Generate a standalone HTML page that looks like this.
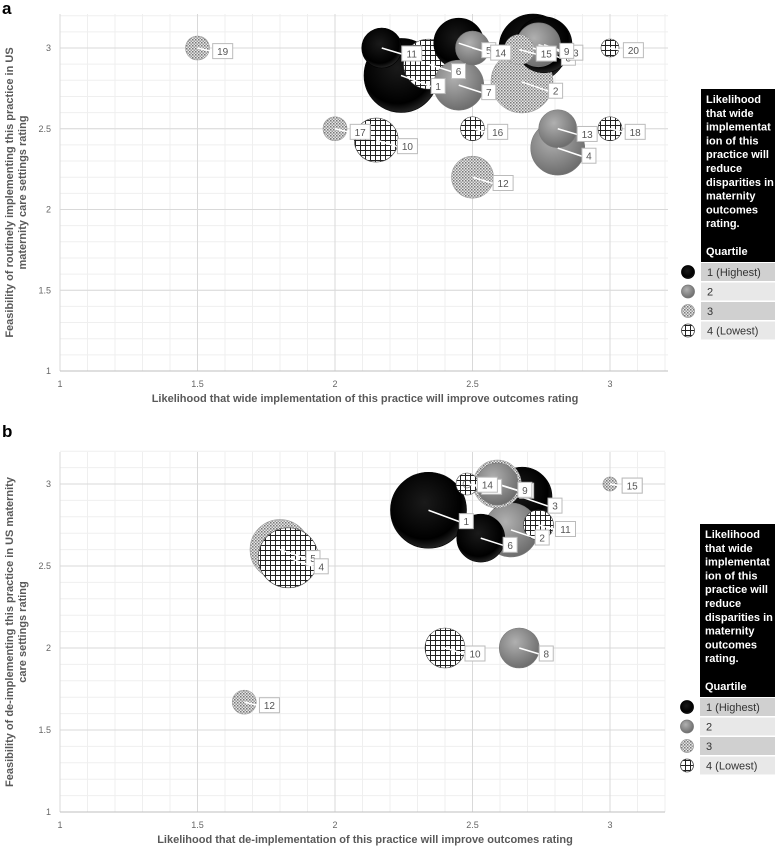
<!DOCTYPE html>
<html><head><meta charset="utf-8"><style>
body{margin:0;background:#fff;width:777px;height:849px;overflow:hidden;font-family:"Liberation Sans",sans-serif}
svg{position:absolute;left:0;top:0}
</style></head><body>
<svg id="chart" width="777" height="849" xmlns="http://www.w3.org/2000/svg">
<defs>
<radialGradient id="gBlack" cx="45%" cy="40%" r="60%"><stop offset="0" stop-color="#1a1a1a"/><stop offset="0.8" stop-color="#000"/><stop offset="1" stop-color="#222"/></radialGradient>
<radialGradient id="gGray" cx="40%" cy="35%" r="65%"><stop offset="0" stop-color="#b0b0b0"/><stop offset="1" stop-color="#6e6e6e"/></radialGradient>
<pattern id="pDots" width="3" height="3" patternUnits="userSpaceOnUse"><rect width="3" height="3" fill="#e6e6e6"/><rect width="1.5" height="1.5" fill="#777"/><rect x="1.5" y="1.5" width="1.5" height="1.5" fill="#999"/></pattern>
<pattern id="pCross" width="5" height="5" patternUnits="userSpaceOnUse"><rect width="5" height="5" fill="#fff"/><path d="M0 0.5H5M0.5 0V5" stroke="#222" stroke-width="1"/></pattern>
</defs>
<g id="layer"></g>
</svg>
<script>
// Chart a data
const aLabels=[1,11,6,5,14,7,2,8,3,9,15,20,19,17,10,16,13,4,18,12];
const aX=[2.24,2.17,2.34,2.45,2.5,2.45,2.68,2.72,2.76,2.74,2.67,3,1.5,2,2.15,2.5,2.81,2.81,3,2.5];
const aY=[2.83,3,2.9,3.03,3,2.77,2.79,3,3.02,3.02,2.99,3,3,2.5,2.43,2.5,2.5,2.38,2.5,2.2];
const aSize=[37,20,25,25,17,25,31,34,28,22,15,9,12,12,22,12,19,27,12,21];
const aQ=[1,1,4,1,2,2,3,1,1,2,3,4,3,3,4,4,2,2,4,3];
// Chart b data
const bLabels=[1,3,2,6,7,9,13,14,11,16,15,5,4,8,10,12];
const bX=[2.34,2.68,2.64,2.53,2.59,2.59,2.48,2.48,2.74,3,3,1.8,1.83,2.67,2.4,1.67];
const bY=[2.84,2.92,2.72,2.67,3,3,3,3,2.75,3,3,2.6,2.55,2,2,1.67];
const bSize=[38,30,27,24,24,21,11,4,15,7,7,30,30,20,20,12];
const bQ=[1,1,2,1,3,2,4,4,4,3,3,3,4,2,4,3];
const xTicks=[1,1.5,2,2.5,3];
const yTicks=[1,1.5,2,2.5,3];
const quartileNames=["1 (Highest)","2","3","4 (Lowest)"];

const NS="http://www.w3.org/2000/svg";
const layer=document.getElementById('layer');
function mk(t,a,p){const e=document.createElementNS(NS,t);for(const k in a)e.setAttribute(k,a[k]);(p||layer).appendChild(e);return e;}
const fills={1:"url(#gBlack)",2:"url(#gGray)",3:"url(#pDots)",4:"url(#pCross)"};
const strokes={1:"#000",2:"#777",3:"#999",4:"#444"};

function drawChart(cfg){
  const sx=v=>cfg.x0+(v-1)*cfg.xs, sy=v=>cfg.y1-(v-1)*cfg.ys;
  const g=mk('g',{});
  
  
  for(let v=1;v<=3.201;v+=0.1){mk('line',{x1:sx(v),x2:sx(v),y1:cfg.yTop,y2:cfg.y1,stroke:"#efefef"},g);}
  for(let v=1;v<=3.201;v+=0.1){mk('line',{x1:cfg.x0,x2:cfg.xRight,y1:sy(v),y2:sy(v),stroke:"#efefef"},g);}
  xTicks.forEach(v=>{mk('line',{x1:sx(v),x2:sx(v),y1:cfg.yTop,y2:cfg.y1,stroke:"#d9d9d9"},g);
    const t=mk('text',{x:sx(v),y:cfg.y1+16,"font-size":9,fill:"#666","text-anchor":"middle"},g);t.textContent=v;
    });
  yTicks.forEach(v=>{mk('line',{x1:cfg.x0,x2:cfg.xRight,y1:sy(v),y2:sy(v),stroke:"#d9d9d9"},g);
    const t=mk('text',{x:cfg.x0-9,y:sy(v)+3,"font-size":9,fill:"#666","text-anchor":"end"},g);t.textContent=v;
    });
  mk('line',{x1:cfg.x0,x2:cfg.xRight,y1:cfg.y1,y2:cfg.y1,stroke:"#bfbfbf"},g);
  const order=cfg.X.map((_,i)=>i).sort((a,b)=>cfg.S[b]-cfg.S[a]);
  order.forEach(i=>{
    const c=mk('circle',{cx:sx(cfg.X[i]),cy:sy(cfg.Y[i]),r:cfg.S[i],fill:fills[cfg.Q[i]],stroke:strokes[cfg.Q[i]],"stroke-width":0.6},g);
    
    
  });
  cfg.X.forEach((_,i)=>{
    const cx=sx(cfg.X[i]),cy=sy(cfg.Y[i]);
    const lx=cx+cfg.S[i]*0.6+8, ly=cy+cfg.S[i]*0.3;
    mk('line',{x1:cx,y1:cy,x2:lx,y2:ly,stroke:"#fff","stroke-width":1.5},g);
    const w=String(cfg.L[i]).length*6+8;
    mk('rect',{x:lx,y:ly-8,width:w,height:15,fill:"#fff",stroke:"#bbb"},g);
    const t=mk('text',{x:lx+w/2,y:ly+3.5,"font-size":10,fill:"#555","text-anchor":"middle"},g);t.textContent=cfg.L[i];
    
  });
  const xt=mk('text',{x:cfg.xTitleX,y:cfg.y1+31,"font-size":11,"font-weight":"bold",fill:"#595959","text-anchor":"middle"},g);
  xt.textContent=cfg.xTitle;
  
  const ymid=(cfg.yTop+cfg.y1)/2;
  const yt=mk('text',{transform:`translate(13,${ymid}) rotate(-90)`,"font-size":11,"font-weight":"bold",fill:"#595959","text-anchor":"middle"},g);
  
  cfg.yTitle.forEach((s,k)=>{const ts=mk('tspan',{x:0,dy:k?13:0},yt);ts.textContent=s;});
  const pl=mk('text',{x:2,y:cfg.panelY,"font-size":17,"font-weight":"bold",fill:"#000"},g);pl.textContent=cfg.panel;
  
  const lg=mk('g',{},g);
  
  mk('rect',{x:cfg.lx,y:cfg.ly,width:775-cfg.lx,height:cfg.lh,fill:"#000"},lg);
  const lines=["Likelihood","that wide","implementat","ion of this","practice will","reduce","disparities in","maternity","outcomes","rating.","","Quartile"];
  const tt=mk('text',{x:cfg.lx+5,y:cfg.ly+14,"font-size":11,"font-weight":"bold",fill:"#fff"},lg);
  lines.forEach((s,k)=>{const ts=mk('tspan',{x:cfg.lx+5,dy:k?13.8:0},tt);ts.textContent=s||" ";});
  quartileNames.forEach((n,k)=>{
    const ry=cfg.ly+cfg.lh+k*19.5;
    mk('rect',{x:cfg.lx,y:ry+1,width:775-cfg.lx,height:18,fill:k%2?"#e8e8e8":"#d0d0d0"},lg);
    const m=mk('circle',{cx:cfg.lx-13,cy:ry+10,r:6.5,fill:fills[k+1],stroke:strokes[k+1],"stroke-width":0.8},lg);
    
    const t=mk('text',{x:cfg.lx+6,y:ry+14,"font-size":11,fill:"#333"},lg);t.textContent=n;
    
  });
}
drawChart({name:'chart-a',panel:'a',panelY:14,x0:60,xs:275,y1:371,ys:161.5,yTop:14,xRight:668,X:aX,Y:aY,S:aSize,Q:aQ,L:aLabels,
  xTitle:"Likelihood  that wide implementation  of this practice will improve outcomes rating",xTitleX:365,
  yTitle:["Feasibility of routinely implementing  this practice in US","maternity  care settings rating"],lx:701,ly:89,lh:173});
drawChart({name:'chart-b',panel:'b',panelY:437,x0:60,xs:275,y1:812,ys:164,yTop:452,xRight:665,X:bX,Y:bY,S:bSize,Q:bQ,L:bLabels,
  xTitle:"Likelihood  that de-implementation  of this practice will improve outcomes rating",xTitleX:365,
  yTitle:["Feasibility of de-implementing  this practice in US maternity","care settings rating"],lx:700,ly:524,lh:173});
</script>
</body></html>
